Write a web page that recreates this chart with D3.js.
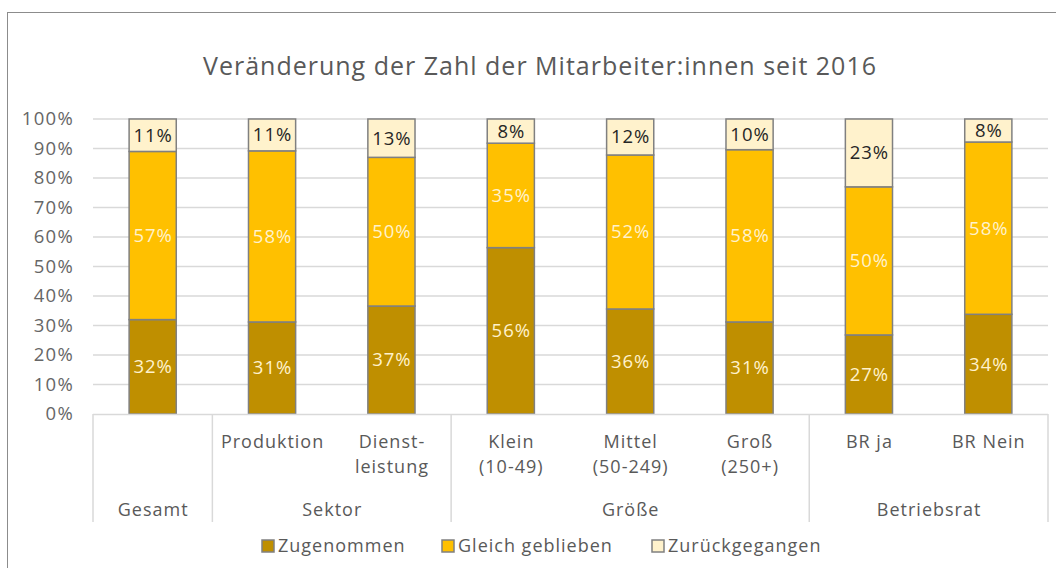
<!DOCTYPE html>
<html><head><meta charset="utf-8">
<script src="https://cdn.jsdelivr.net/npm/d3@7"></script>
<style>body{margin:0;background:#fff}svg{display:block}text{font-family:"Open Sans",sans-serif;letter-spacing:1px}</style>
</head><body><svg id="c" width="1056" height="568"></svg>
<script>
const categories = ["", "Produktion", "Dienst-\nleistung", "Klein\n(10-49)", "Mittel\n(50-249)", "Groß\n(250+)", "BR ja", "BR Nein"];
const groups = ["Gesamt", "Sektor", "Größe", "Betriebsrat"];
const groupSizes = [1, 2, 3, 2];
const seriesNames = ["Zugenommen", "Gleich geblieben", "Zurückgegangen"];
const zugenommen = [32.0, 31.2, 36.6, 56.4, 35.6, 31.2, 26.8, 33.8];
const gleich = [57.0, 58.0, 50.4, 35.4, 52.2, 58.4, 50.2, 58.4];
const zurueck = [11.0, 10.8, 13.0, 8.2, 12.2, 10.4, 23.0, 7.8];
const yTicks = [0, 10, 20, 30, 40, 50, 60, 70, 80, 90, 100];
const title = "Veränderung der Zahl der Mitarbeiter:innen seit 2016";

const colors = ["#BF8F00", "#FFC000", "#FFF2CC"];
const labelColors = ["#FFF2CC", "#FFF2CC", "#262626"];
const svg = d3.select("#c");
const L = 93, R = 1048, T = 119, B = 414;

svg.append("rect").attr("x", 7.5).attr("y", 12.5).attr("width", 1070).attr("height", 580)
  .attr("fill", "#fff").attr("stroke", "#8c8c8c").attr("stroke-width", 1);

svg.append("text").attr("x", 540).attr("y", 75).attr("text-anchor", "middle")
  .attr("font-size", 25).attr("fill", "#595959").text(title);

const x = d3.scaleBand().domain(d3.range(categories.length)).range([L, R]).padding(0);
const y = d3.scaleLinear().domain([0, 100]).range([B, T]);

// gridlines
svg.append("g").selectAll("line").data(yTicks.slice(1)).join("line")
  .attr("x1", L).attr("x2", R).attr("y1", d => y(d)).attr("y2", d => y(d))
  .attr("stroke", "#d9d9d9").attr("stroke-width", 1.5);

// y axis labels
const yAxis = d3.axisLeft(y).tickValues(yTicks).tickFormat(d => d + "%").tickSize(0).tickPadding(0);
const ya = svg.append("g").attr("transform", `translate(${L - 19},0)`).call(yAxis);
ya.select(".domain").remove();
ya.selectAll("text").attr("font-size", 18.5).attr("fill", "#666666").attr("font-family", "Open Sans")
  .style("letter-spacing", "1.3px");

// stacked data
const rows = categories.map((c, i) => ({ i, s0: zugenommen[i], s1: gleich[i], s2: zurueck[i] }));
const stack = d3.stack().keys(["s0", "s1", "s2"])(rows);
const bw = x.bandwidth() * 0.395;

stack.forEach((layer, k) => {
  const g = svg.append("g");
  g.selectAll("rect").data(layer).join("rect")
    .attr("x", d => x(d.data.i) + (x.bandwidth() - bw) / 2)
    .attr("width", bw)
    .attr("y", d => y(d[1]))
    .attr("height", d => y(d[0]) - y(d[1]))
    .attr("fill", colors[k]).attr("stroke", "#808080").attr("stroke-width", 1.5);
  g.selectAll("text").data(layer).join("text")
    .attr("x", d => x(d.data.i) + x.bandwidth() / 2 + 0.5)
    .attr("y", d => (y(d[0]) + y(d[1])) / 2)
    .attr("dy", "0.35em").attr("text-anchor", "middle")
    .attr("font-size", 18.5).attr("fill", labelColors[k])
    .text(d => Math.round(d[1] - d[0]) + "%");
});

// category axis
const ax = svg.append("g");
ax.append("line").attr("x1", L).attr("x2", R).attr("y1", B + 0.5).attr("y2", B + 0.5)
  .attr("stroke", "#d9d9d9").attr("stroke-width", 1.5);
let start = 0;
const bounds = [0];
groupSizes.forEach(n => { start += n; bounds.push(start); });
bounds.forEach(b => {
  const xx = b < categories.length ? x(b) : R;
  ax.append("line").attr("x1", xx).attr("x2", xx).attr("y1", B).attr("y2", 522)
    .attr("stroke", "#d9d9d9").attr("stroke-width", 1.5);
});
categories.forEach((c, i) => {
  const t = ax.append("text").attr("text-anchor", "middle").attr("font-size", 18).attr("fill", "#595959");
  c.split("\n").forEach((line, j) => {
    t.append("tspan").attr("x", x(i) + x.bandwidth() / 2 + 0.5).attr("y", 448 + j * 25).text(line);
  });
});
groups.forEach((g, k) => {
  const x0 = x(bounds[k]);
  const x1 = bounds[k + 1] < categories.length ? x(bounds[k + 1]) : R;
  ax.append("text").attr("x", (x0 + x1) / 2 + 0.5).attr("y", 516).attr("text-anchor", "middle")
    .attr("font-size", 18).attr("fill", "#595959").text(g);
});

// legend
const legX = [262, 442, 652];
const lg = svg.append("g");
seriesNames.forEach((n, k) => {
  lg.append("rect").attr("x", legX[k]).attr("y", 540).attr("width", 12).attr("height", 12)
    .attr("fill", colors[k]).attr("stroke", "#808080").attr("stroke-width", 1.5);
  lg.append("text").attr("x", legX[k] + 16).attr("y", 546).attr("dy", "0.35em")
    .attr("font-size", 18).attr("fill", "#595959").text(n);
});
</script></body></html>
